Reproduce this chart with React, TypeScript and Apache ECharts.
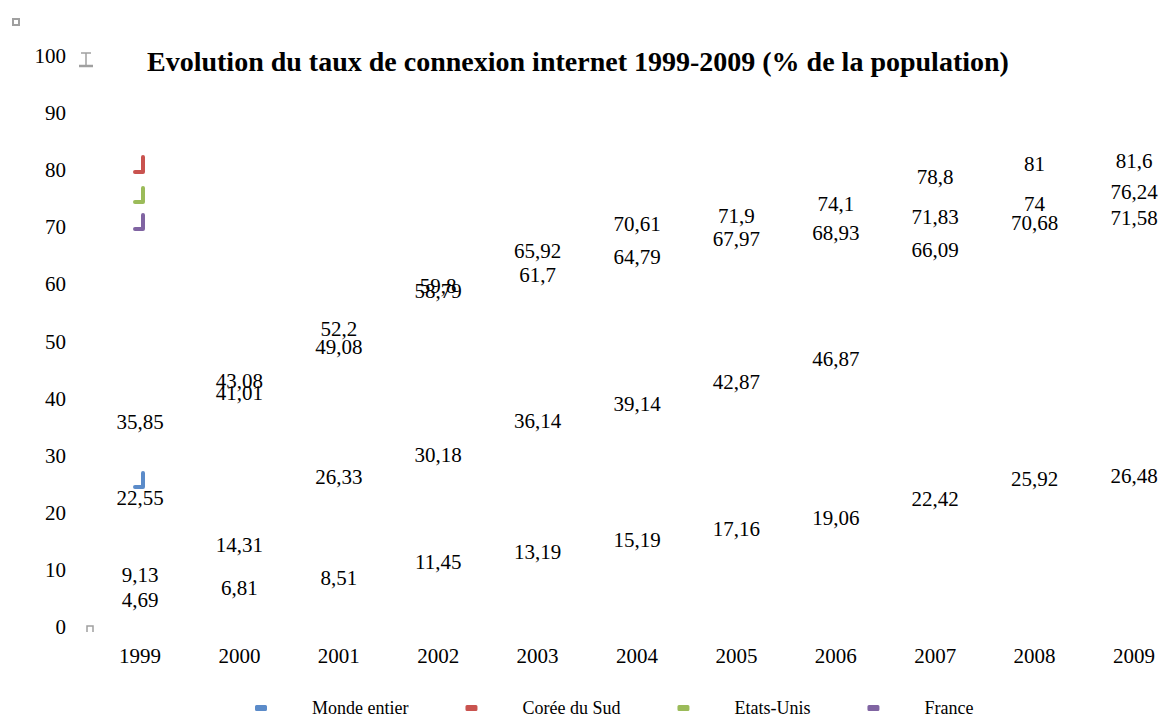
import React, { useEffect, useRef } from "react";
import * as echarts from "echarts";

const years = ["1999", "2000", "2001", "2002", "2003", "2004", "2005", "2006", "2007", "2008", "2009"];
const seriesNames = ["Monde entier", "Corée du Sud", "Etats-Unis", "France"];
const monde = [4.69, 6.81, 8.51, 11.45, 13.19, 15.19, 17.16, 19.06, 22.42, 25.92, 26.48];
const coree = [22.55, 41.01, 52.2, 59.8, 65.92, 70.61, 71.9, 74.1, 78.8, 81, 81.6];
const etatsUnis = [35.85, 43.08, 49.08, 58.79, 61.7, 64.79, 67.97, 68.93, 71.83, 74, 76.24];
const france = [9.13, 14.31, 26.33, 30.18, 36.14, 39.14, 42.87, 46.87, 66.09, 70.68, 71.58];
const colors = ["#5B8BC9", "#C9534F", "#9BBB59", "#8064A2"];

const FONT = "Liberation Serif";

export default function App() {
  const ref = useRef<HTMLDivElement>(null);
  useEffect(() => {
    document.body.style.margin = "0";
    const chart = echarts.init(ref.current!, null, { renderer: "svg" });
    const datasets = [monde, coree, etatsUnis, france];
    const fmt = (p: any) => String(p.value).replace(".", ",");
    const artifactStyle = { stroke: "#A0A0A0", lineWidth: 2, fill: "none" };
    const tick = (x: number, yTop: number, yFoot: number, color: string) => ({
      type: "polyline",
      shape: { points: [[x, yTop], [x, yFoot], [x - 8, yFoot]] },
      style: { stroke: color, lineWidth: 4, lineCap: "round", lineJoin: "round", fill: "none" },
      silent: true,
    });
    chart.setOption({
      animation: false,
      textStyle: { fontFamily: FONT },
      title: {
        text: "Evolution du taux de connexion internet 1999-2009 (% de la population)",
        left: 142,
        top: 42,
        textStyle: { fontFamily: FONT, fontSize: 28, fontWeight: "bold", color: "#000" },
      },
      legend: {
        left: 250,
        top: 694,
        icon: "roundRect",
        itemWidth: 12,
        itemHeight: 6,
        itemGap: 57,
        data: seriesNames,
        textStyle: { fontFamily: FONT, fontSize: 18, color: "#000", padding: [0, 0, 0, 40] },
      },
      grid: { left: 140, right: 32, top: 56, bottom: 91, containLabel: false },
      xAxis: {
        type: "category",
        data: years,
        boundaryGap: false,
        axisLine: { show: false },
        axisTick: { show: false },
        axisLabel: { fontFamily: FONT, fontSize: 21, color: "#000", margin: 18 },
      },
      yAxis: {
        type: "value",
        min: 0,
        max: 100,
        interval: 10,
        axisLine: { show: false },
        axisTick: { show: false },
        splitLine: { show: false },
        axisLabel: { fontFamily: FONT, fontSize: 21, color: "#000", margin: 74 },
      },
      series: datasets.map((d, i) => ({
        name: seriesNames[i],
        type: "line",
        data: d,
        color: colors[i],
        symbol: "circle",
        symbolSize: 0,
        lineStyle: { opacity: 0 },
        label: {
          show: true,
          position: "inside",
          formatter: fmt,
          fontFamily: FONT,
          fontSize: 21,
          color: "#000",
        },
      })),
      graphic: [
        { type: "rect", shape: { x: 13, y: 19, width: 6, height: 6 }, style: artifactStyle, silent: true },
        { type: "line", shape: { x1: 81, y1: 53, x2: 91, y2: 53 }, style: { stroke: "#A0A0A0", lineWidth: 1.5 }, silent: true },
        { type: "line", shape: { x1: 86, y1: 53, x2: 86, y2: 66 }, style: { stroke: "#A0A0A0", lineWidth: 1.5 }, silent: true },
        { type: "line", shape: { x1: 79, y1: 66, x2: 93, y2: 66 }, style: { stroke: "#A0A0A0", lineWidth: 2.5 }, silent: true },
        { type: "polyline", shape: { points: [[87, 632], [87, 626], [93, 626], [93, 632]] }, style: { stroke: "#A0A0A0", lineWidth: 1.5, fill: "none" }, silent: true },
        tick(143, 157, 172, colors[1]),
        tick(143, 188, 202, colors[2]),
        tick(143, 215, 229, colors[3]),
        tick(143, 473, 487, colors[0]),
      ],
    });
    return () => chart.dispose();
  }, []);
  return <div ref={ref} style={{ width: 1166, height: 718 }} />;
}
